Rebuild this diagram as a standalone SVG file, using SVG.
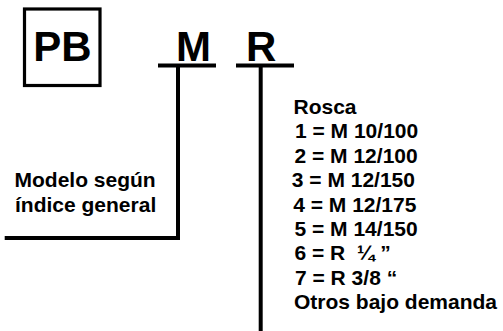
<svg xmlns="http://www.w3.org/2000/svg" width="503" height="331" viewBox="0 0 503 331">
<style>
.t{font-family:"Liberation Sans",Arial,Helvetica,sans-serif;font-weight:bold;fill:#000}
.big{font-size:42px}
.mid{font-size:21px}
.ln{stroke:#000;stroke-width:4;fill:none}
</style>
<rect x="0" y="0" width="503" height="331" fill="#fff"/>
<g id="node-pb">
<rect x="24.5" y="9" width="75.5" height="76.5" fill="none" stroke="#000" stroke-width="3.2"/>
<text class="t big" x="62.5" y="61" text-anchor="middle">PB</text>
</g>
<g id="node-m">
<text class="t big" x="193.5" y="61" text-anchor="middle">M</text>
</g>
<g id="node-r">
<text class="t big" x="261.2" y="61" text-anchor="middle">R</text>
</g>
<g id="node-modelo">
<text class="t mid" x="14.5" y="187">Modelo según</text>
<text class="t mid" x="15" y="211.7">índice general</text>
</g>
<g id="node-rosca">
<text class="t mid" x="293.5" y="114">Rosca</text>
<text class="t mid" x="295" y="138.3">1 = M 10/100</text>
<text class="t mid" x="294.5" y="162.7">2 = M 12/100</text>
<text class="t mid" x="291.8" y="186.7">3 = M 12/150</text>
<text class="t mid" x="293.2" y="211.7">4 = M 12/175</text>
<text class="t mid" x="294.5" y="236">5 = M 14/150</text>
<text class="t mid" x="294.5" y="260" xml:space="preserve">6 = R  ¼ ”</text>
<text class="t mid" x="295" y="285">7 = R 3/8 “</text>
<text class="t mid" x="294" y="309.3">Otros bajo demanda</text>
</g>
<g id="connectors">
<line class="ln" x1="158" y1="65.5" x2="216" y2="65.5"/>
<line class="ln" x1="236" y1="65.5" x2="294" y2="65.5"/>
<polyline class="ln" points="178,65.5 178,238 4.7,238"/>
<line class="ln" x1="260.7" y1="65.5" x2="260.7" y2="331" stroke-width="4.5"/>
</g>
</svg>
